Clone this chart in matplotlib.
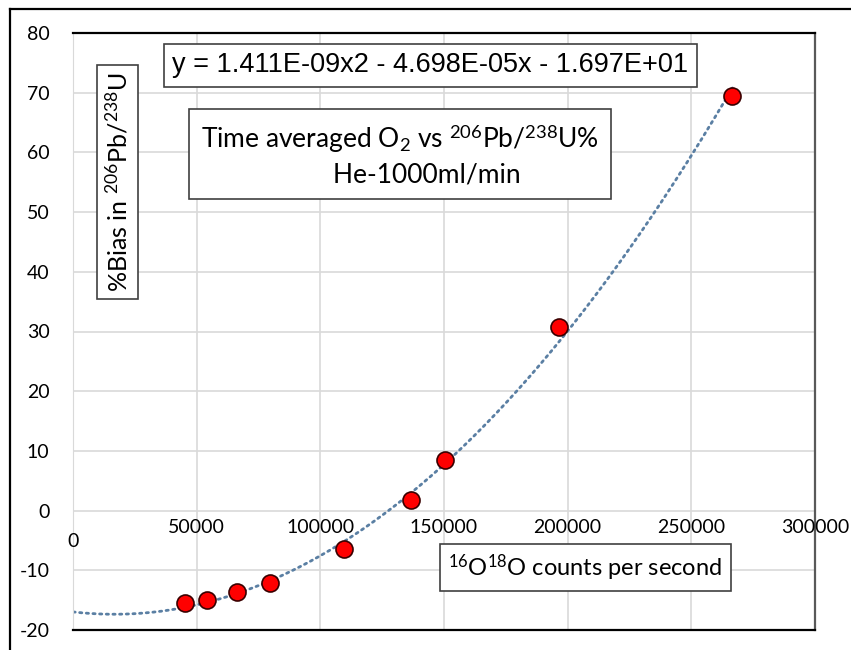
import numpy as np
import matplotlib
matplotlib.use("Agg")
import matplotlib.pyplot as plt
from matplotlib.lines import Line2D

plt.rcParams['font.family'] = ['Lato', 'DejaVu Sans']
plt.rcParams['mathtext.fontset'] = 'custom'
plt.rcParams['mathtext.rm'] = 'Lato'
plt.rcParams['mathtext.it'] = 'Lato:italic'

# measured points
o2_cps = [45300, 54200, 66350, 79700, 109600, 136750, 150500, 196600, 266600]
bias_pct = [-15.4, -14.9, -13.7, -12.1, -6.4, 1.7, 8.4, 30.7, 69.5]

# Excel trendline coefficients (as printed on the chart)
trend_coef = [1.411e-09, -4.698e-05, -16.97]
eq_text = "y = 1.411E-09x2 - 4.698E-05x - 1.697E+01"

x_ticks = [0, 50000, 100000, 150000, 200000, 250000, 300000]
y_ticks = [-20, -10, 0, 10, 20, 30, 40, 50, 60, 70, 80]

fig = plt.figure(figsize=(8.51, 6.5), dpi=100)
ax = fig.add_axes([73/851, 20/650, 742/851, 597/650])

ax.set_xlim(0, 300000)
ax.set_ylim(-20, 80)
ax.set_xticks(x_ticks)
ax.set_yticks(y_ticks)
ax.set_xticklabels([])
ax.set_yticklabels([str(v) for v in y_ticks], fontsize=14)
ax.tick_params(length=0, pad=17)
ax.grid(True, color='#d9d9d9', lw=1.2)
ax.set_axisbelow(True)
for s in ['top', 'bottom']:
    ax.spines[s].set_color('black')
    ax.spines[s].set_linewidth(1.6)
ax.spines['right'].set_color('#595959')
ax.spines['right'].set_linewidth(1.6)
ax.spines['left'].set_color('#d9d9d9')

# x tick labels sit just under the y=0 line
for v in x_ticks[1:]:
    ax.text(v, -1.4, str(v), ha='center', va='top', fontsize=14)
ax.text(0, -3.8, '0', ha='center', va='top', fontsize=14)

xs = np.linspace(0, max(o2_cps), 300)
ax.plot(xs, np.polyval(trend_coef, xs), color='#5a7fa3', lw=2, ls=(0, (0.8, 1.6)),
        dash_capstyle='round', zorder=2)
ax.scatter(o2_cps, bias_pct, s=150, color='#ff0000', edgecolor='#3a0000', lw=1.2, zorder=3)

box = dict(boxstyle='square,pad=0.3', fc='white', ec='#404040', lw=1.2)

ax.text(430.5/851, 1 - 65.5/650, eq_text, transform=fig.transFigure, ha='center', va='center',
        fontsize=19.5, family='Liberation Sans',
        bbox=dict(boxstyle='square,pad=0.3', fc='white', ec='#404040', lw=1.2))

ax.text(400/851, 1 - 155/650,
        'Time averaged O$_2$ vs $^{206}$Pb/$^{238}$U%\n        He-1000ml/min',
        transform=fig.transFigure, ha='center', va='center', fontsize=19,
        linespacing=1.4, bbox=dict(boxstyle='square,pad=0.45', fc='white', ec='#404040', lw=1.2))

ax.text(117.5/851, 1 - 182/650, '%Bias in $^{206}$Pb/$^{238}$U', transform=fig.transFigure,
        ha='center', va='center', rotation=90, fontsize=18, bbox=box)

ax.text(585.5/851, 1 - 567.5/650, '$^{16}$O$^{18}$O counts per second', transform=fig.transFigure,
        ha='center', va='center', fontsize=17, bbox=dict(boxstyle='square,pad=0.35', fc='white',
                                                          ec='#404040', lw=1.2))

# outer frame (top and left edges visible)
fig.add_artist(Line2D([10/851, 1], [1 - 9/650, 1 - 9/650], color='black', lw=1.6))
fig.add_artist(Line2D([10/851, 10/851], [0, 1 - 9/650], color='black', lw=1.6))

fig.savefig('out.png', dpi=100)
